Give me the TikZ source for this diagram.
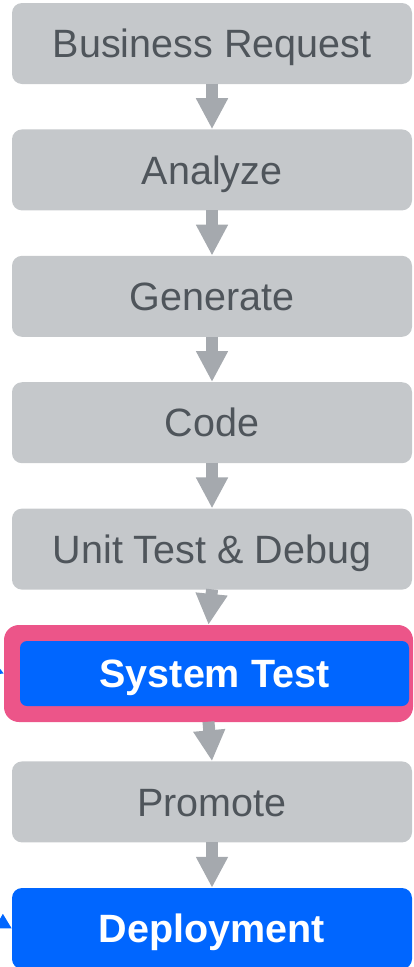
\documentclass[tikz,border=0pt]{standalone}
\usepackage{fontspec}
\setmainfont{Liberation Sans}
\usetikzlibrary{arrows.meta}
\definecolor{boxgray}{HTML}{C5C8CB}
\definecolor{labelgray}{HTML}{4F555B}
\definecolor{flowgray}{HTML}{A5A9AE}
\definecolor{stageblue}{HTML}{0066FF}
\definecolor{markpink}{HTML}{EC5589}
\tikzset{
  stagebox/.style={rectangle, rounded corners=10pt, fill=boxgray, text=labelgray,
    minimum width=400pt, minimum height=81pt, inner sep=0pt,
    text height=28.3pt, text depth=0pt,
    font=\fontsize{39.5}{42}\selectfont},
  activebox/.style={rectangle, rounded corners=7pt, fill=stageblue, text=white,
    inner sep=0pt, text height=28.3pt, text depth=0pt,
    font=\fontsize{39.5}{42}\selectfont\bfseries},
  markbox/.style={rectangle, rounded corners=15pt, fill=markpink, inner sep=0pt},
  flow/.style={draw=flowgray, line width=12pt,
    -{Triangle[width=30pt,length=31pt]}, shorten <=-0.5pt},
  inflow/.style={draw=stageblue, line width=3pt,
    -{Triangle[width=16pt,length=15pt]}}
}
\begin{document}
\begin{tikzpicture}[x=1pt,y=1pt]
  \useasboundingbox (0,0) rectangle (413,-967);
  \clip (0,0) rectangle (413,-967);

  % regular stages
  \node[stagebox] (req)  at (212,-43.5)  {Business Request};
  \node[stagebox] (ana)  at (212,-169.9) {Analyze};
  \node[stagebox] (gen)  at (212,-296.3) {Generate};
  \node[stagebox] (code) at (212,-422.7) {Code};
  \node[stagebox] (unit) at (212,-549.1) {Unit Test \& Debug};

  % highlighted system test stage
  \node[markbox, minimum width=409pt, minimum height=97pt] (mark) at (208.5,-673.5) {};
  \node[activebox, minimum width=389pt, minimum height=65pt] (sys) at (214.5,-673.5) {System Test};

  \node[stagebox] (prom) at (212,-801.9) {Promote};
  \node[activebox, rounded corners=10pt, minimum width=400pt, minimum height=81pt] (dep) at (212,-928.5) {Deployment};

  % flow between stages
  \draw[flow] (req.south)  -- (ana.north);
  \draw[flow] (ana.south)  -- (gen.north);
  \draw[flow] (gen.south)  -- (code.north);
  \draw[flow] (code.south) -- (unit.north);
  \draw[flow] (unit.south) -- (mark.north);
  \draw[flow] (mark.south) -- (prom.north);
  \draw[flow] (prom.south) -- (dep.north);

  % incoming links from the left
  \coordinate (srcA) at (-40,-655);
  \coordinate (srcB) at (-30,-905);
  \draw[inflow] (srcA) -- (mark.west);
  \draw[inflow] (srcB) -- (dep.west);
\end{tikzpicture}
\end{document}
